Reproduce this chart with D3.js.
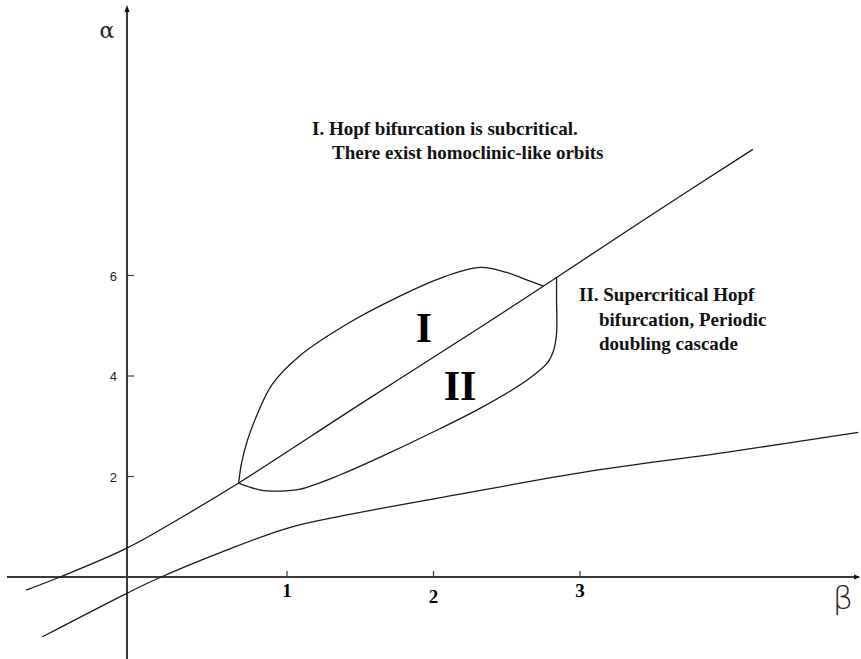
<!DOCTYPE html>
<html>
<head>
<meta charset="utf-8">
<script src="https://cdn.jsdelivr.net/npm/d3@7"></script>
<style>
  html, body { margin: 0; padding: 0; background: #fff; }
  svg { display: block; }
</style>
</head>
<body>
<div id="chart"></div>
<script>
// tick labels
const betaTicks = [1, 2, 3];
const alphaTicks = [2, 4, 6];

// main Hopf line (beta, alpha)
const mainBeta = [-0.78, -0.55, -0.09, 0.30, 0.67, 1.50, 2.32, 2.84, 3.50, 4.18];
const mainAlpha = [-0.26, 0.00, 0.58, 1.22, 1.87, 3.44, 4.97, 5.96, 7.23, 8.51];

// lower curve
const lowerBeta = [-0.67, -0.09, 0.11, 0.54, 1.00, 1.40, 2.07, 3.04, 4.02, 4.90];
const lowerAlpha = [-1.19, -0.32, -0.04, 0.48, 0.97, 1.23, 1.59, 2.09, 2.49, 2.88];

// closed region, upper branch
const loopUpBeta = [0.67, 0.69, 0.73, 0.80, 0.90, 1.09, 1.43, 1.77, 2.04, 2.32, 2.50, 2.64, 2.75];
const loopUpAlpha = [1.87, 2.27, 2.72, 3.26, 3.84, 4.41, 5.07, 5.59, 5.94, 6.16, 6.06, 5.91, 5.79];

// closed region, lower branch
const loopLowBeta = [0.67, 0.82, 0.95, 1.09, 1.36, 1.64, 1.98, 2.32, 2.64, 2.78, 2.82, 2.84, 2.84, 2.84];
const loopLowAlpha = [1.87, 1.73, 1.71, 1.75, 2.03, 2.39, 2.86, 3.36, 3.92, 4.27, 4.51, 4.85, 5.51, 5.97];

const regionLabels = ["I", "II"];
const noteI = ["I. Hopf bifurcation is subcritical.", "There exist homoclinic-like orbits"];
const noteII = ["II. Supercritical Hopf", "bifurcation, Periodic", "doubling cascade"];

const width = 861, height = 659;

const svg = d3.select("#chart").append("svg")
  .attr("width", width)
  .attr("height", height);

const x = d3.scaleLinear().domain([0, 3]).range([140.5, 580]);
const y = d3.scaleLinear().domain([0, 6]).range([577, 275.5]);

const axisBeta = -0.092; // where the alpha axis is drawn

// axes
const axisColor = "#3a3a3a";
svg.append("line")
  .attr("x1", 7).attr("x2", width - 2)
  .attr("y1", y(0)).attr("y2", y(0))
  .attr("stroke", axisColor).attr("stroke-width", 2);
svg.append("line")
  .attr("x1", x(axisBeta)).attr("x2", x(axisBeta))
  .attr("y1", 8).attr("y2", height)
  .attr("stroke", axisColor).attr("stroke-width", 2);

// little arrow heads
svg.append("path")
  .attr("d", `M${width - 1},${y(0)} l-6,-2.5 l0,5 z`)
  .attr("fill", "#111");
svg.append("path")
  .attr("d", `M${x(axisBeta)},5 l-2.5,7 l5,0 z`)
  .attr("fill", "#111");

// ticks
svg.selectAll(".xtick")
  .data(betaTicks)
  .enter()
  .append("line")
  .attr("x1", d => x(d)).attr("x2", d => x(d))
  .attr("y1", y(0)).attr("y2", y(0) - 6)
  .attr("stroke", axisColor).attr("stroke-width", 1.2);

svg.selectAll(".xlabel")
  .data(betaTicks)
  .enter()
  .append("text")
  .attr("x", d => x(d))
  .attr("y", d => y(0) + (d === 2 ? 26 : 20))
  .attr("text-anchor", "middle")
  .style("font-family", "Liberation Serif")
  .style("font-weight", "bold")
  .style("font-size", "19px")
  .text(d => d);

svg.selectAll(".ytick")
  .data(alphaTicks)
  .enter()
  .append("line")
  .attr("x1", x(axisBeta)).attr("x2", x(axisBeta) + 7)
  .attr("y1", d => y(d)).attr("y2", d => y(d))
  .attr("stroke", axisColor).attr("stroke-width", 1.2);

svg.selectAll(".ylabel")
  .data(alphaTicks)
  .enter()
  .append("text")
  .attr("x", x(axisBeta) - 10)
  .attr("y", d => y(d) + 5)
  .attr("text-anchor", "end")
  .style("font-family", "Liberation Sans")
  .style("font-size", "13px")
  .style("fill", "#222")
  .text(d => d);

// axis names
svg.append("text")
  .attr("x", 107).attr("y", 38)
  .attr("text-anchor", "middle")
  .style("font-family", "DejaVu Serif")
  .style("font-size", "22px")
  .style("fill", "#222")
  .text("α");
svg.append("text")
  .attr("x", 843).attr("y", 609)
  .attr("text-anchor", "middle")
  .style("font-family", "DejaVu Sans")
  .style("font-weight", "200")
  .style("font-size", "32px")
  .style("fill", "#222")
  .text("β");

// curves
const line = d3.line()
  .x(d => x(d[0]))
  .y(d => y(d[1]))
  .curve(d3.curveCatmullRom.alpha(0.5));

const curves = [
  d3.zip(mainBeta, mainAlpha),
  d3.zip(lowerBeta, lowerAlpha),
  d3.zip(loopUpBeta, loopUpAlpha),
  d3.zip(loopLowBeta, loopLowAlpha)
];

svg.selectAll(".curve")
  .data(curves)
  .enter()
  .append("path")
  .attr("d", line)
  .attr("fill", "none")
  .attr("stroke", "#1a1a1a")
  .attr("stroke-width", 1.3);

// region labels
svg.selectAll(".region")
  .data(regionLabels)
  .enter()
  .append("text")
  .attr("x", (d, i) => [424, 460][i])
  .attr("y", (d, i) => [342, 400][i])
  .attr("text-anchor", "middle")
  .style("font-family", "Liberation Serif")
  .style("font-weight", "bold")
  .style("font-size", "42px")
  .text(d => d);

// notes
const noteFont = sel => sel
  .style("font-family", "Liberation Serif")
  .style("font-weight", "bold")
  .style("font-size", "19px")
  .style("fill", "#111");

svg.selectAll(".noteI")
  .data(noteI)
  .enter()
  .append("text")
  .attr("x", (d, i) => i === 0 ? 312 : 332)
  .attr("y", (d, i) => 135 + i * 24)
  .call(noteFont)
  .text(d => d);

svg.selectAll(".noteII")
  .data(noteII)
  .enter()
  .append("text")
  .attr("x", (d, i) => i === 0 ? 579 : 599)
  .attr("y", (d, i) => 301 + i * 24.5)
  .call(noteFont)
  .text(d => d);
</script>
</body>
</html>
